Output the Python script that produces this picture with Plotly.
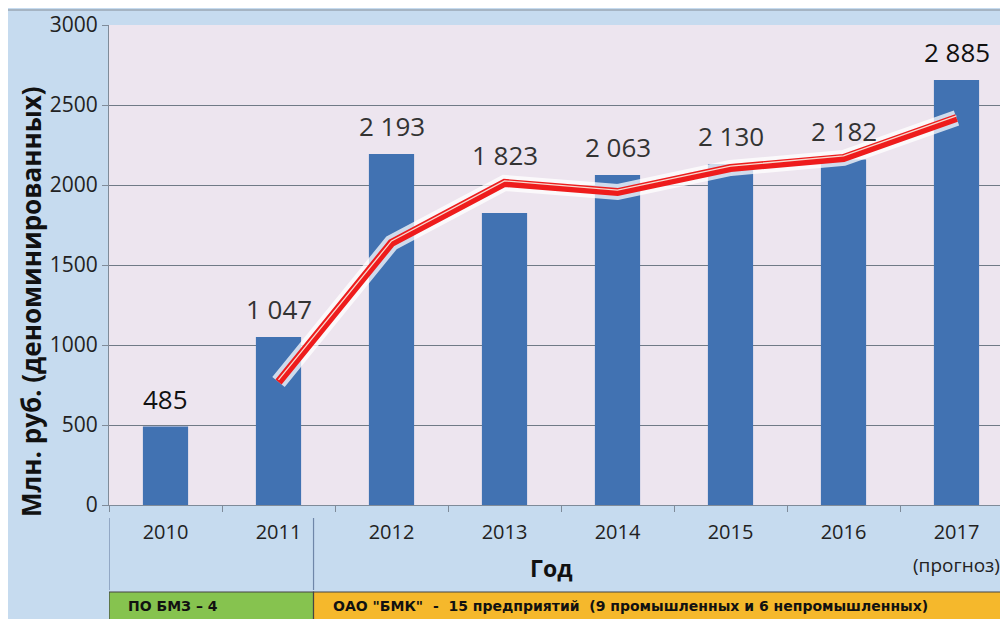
import plotly.graph_objects as go

years = ["2010", "2011", "2012", "2013", "2014", "2015", "2016", "2017"]
bar_values = [490, 1050, 2194, 1825, 2063, 2131, 2160, 2656]
bar_labels = ["485", "1 047", "2 193", "1 823", "2 063", "2 130", "2 182", "2 885"]
line_years_idx = [1, 2, 3, 4, 5, 6, 7]
line_values = [769, 1638, 2013, 1956, 2106, 2169, 2419]
y_ticks = [0, 500, 1000, 1500, 2000, 2500, 3000]
group_labels = ["ПО БМЗ – 4", 'ОАО "БМК"  -  15 предприятий  (9 промышленных и 6 непромышленных)']
y_title = "Млн. руб. (деноминированных)"

xs = list(range(len(years)))
FONT = "Open Sans"
BAR = "#4172b2"
RED = "#ee1c1c"
PH = 480.0   # plot height in px (for paper offsets)
PW = 904.0   # plot width in px
SEP_X = 1.31  # group separator position (between 2011 and 2012 labels)

fig = go.Figure()
fig.add_trace(go.Bar(x=xs, y=bar_values, width=0.4, marker=dict(color=BAR, line=dict(width=0)),
                     hoverinfo="skip", showlegend=False))
fig.add_trace(go.Scatter(x=line_years_idx, y=line_values, mode="lines",
                         line=dict(color="rgba(255,255,255,0.75)", width=16),
                         showlegend=False, hoverinfo="skip"))
fig.add_trace(go.Scatter(x=line_years_idx, y=line_values, mode="lines",
                         line=dict(color=RED, width=8),
                         showlegend=False, hoverinfo="skip"))
fig.add_trace(go.Scatter(x=line_years_idx, y=line_values, mode="lines", yaxis="y2",
                         line=dict(color="#f6d9cf", width=1.3),
                         showlegend=False, hoverinfo="skip"))

extra_shift = {3: 30}
for i, (v, t) in enumerate(zip(bar_values, bar_labels)):
    dark = i in (0, 7)
    fig.add_annotation(x=i, y=v, text=t, showarrow=False, yanchor="bottom",
                       yshift=8 + extra_shift.get(i, 0),
                       font=dict(family=FONT, size=26, color="#111111" if dark else "#333333"))

shapes = []
shapes.append(dict(type="line", xref="paper", yref="paper", x0=-0.2, x1=1.1, y0=1.0 + 15/PH, y1=1.0 + 15/PH,
                   line=dict(color="#9aa7b5", width=1.5)))
for xv in (-0.5, SEP_X):
    shapes.append(dict(type="line", xref="x", yref="paper", x0=xv, x1=xv, y0=-85/PH, y1=-13/PH,
                       line=dict(color="#6f86a8", width=1.2)))
shapes.append(dict(type="rect", xref="x", yref="paper", x0=-0.5, x1=SEP_X, y0=-125/PH, y1=-87/PH,
                   fillcolor="#86c34f", line=dict(color="#444", width=1.2)))
shapes.append(dict(type="rect", xref="x", yref="paper", x0=SEP_X, x1=7.6, y0=-125/PH, y1=-87/PH,
                   fillcolor="#f5b82c", line=dict(color="#444", width=1.2)))
fig.update_layout(shapes=shapes)

BAND_FONT = dict(family="DejaVu Sans", size=14, color="#111")
fig.add_annotation(x=-0.5, y=-101/PH, xref="x", yref="paper", text="<b>" + group_labels[0] + "</b>",
                   showarrow=False, xanchor="left", yanchor="middle", xshift=17, font=BAND_FONT)
fig.add_annotation(x=SEP_X, y=-101/PH, xref="x", yref="paper", text="<b>" + group_labels[1] + "</b>",
                   showarrow=False, xanchor="left", yanchor="middle", xshift=17, font=BAND_FONT)
fig.add_annotation(x=7, y=-60/PH, xref="x", yref="paper", text="(прогноз)", showarrow=False,
                   yanchor="middle", font=dict(family=FONT, size=19, color="#222"))
fig.add_annotation(x=3.41, y=-63/PH, xref="x", yref="paper", text="<b>Год</b>", showarrow=False,
                   yanchor="middle", font=dict(family=FONT, size=23, color="#111"))
fig.add_annotation(x=-78/PW, y=0.423, xref="paper", yref="paper", text="<b>" + y_title + "</b>",
                   textangle=-90, showarrow=False, xanchor="center", yanchor="middle",
                   font=dict(family=FONT, size=26, color="#111"))

fig.update_layout(
    width=1008, height=619,
    margin=dict(l=101, r=3, t=17, b=122),
    paper_bgcolor="#c6dbef",
    plot_bgcolor="#ede5ef",
    xaxis=dict(range=[-0.5, 7.5], tickmode="array", tickvals=xs, ticktext=years,
               ticks="", showgrid=False, zeroline=False, showline=True, linecolor="#7f8b99",
               tickfont=dict(family=FONT, size=20, color="#222"), ticklabelstandoff=9,
               minor=dict(tickmode="array", tickvals=[i - 0.5 for i in xs], ticks="outside",
                          ticklen=6, tickcolor="#7f8b99", showgrid=False)),
    yaxis=dict(range=[0, 3000], tickmode="array", tickvals=y_ticks, ticks="outside", ticklen=6,
               tickcolor="#7f8b99", showgrid=True, gridcolor="#707a86", gridwidth=1.2,
               zeroline=False, showline=True, linecolor="#7f8b99",
               tickfont=dict(family=FONT, size=21, color="#222")),
    yaxis2=dict(range=[-12.5, 2987.5], overlaying="y", visible=False),
)

fig.write_html("out.html")
